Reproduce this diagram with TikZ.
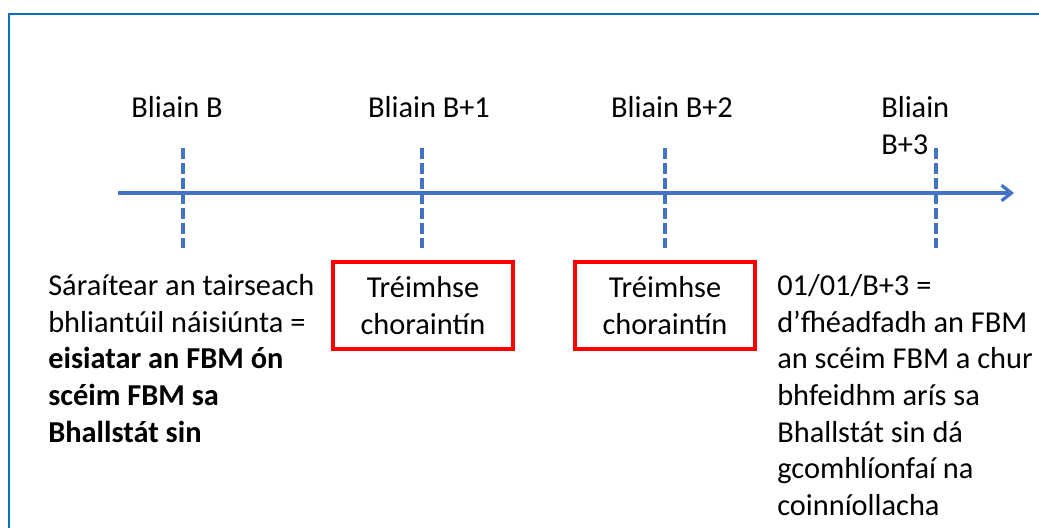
\documentclass[tikz,border=0pt]{standalone}
\usepackage{fontspec}
\setmainfont{Carlito}
\usetikzlibrary{arrows.meta}
\definecolor{axisblue}{RGB}{68,114,196}
\definecolor{frameblue}{RGB}{0,112,192}
\definecolor{boxred}{RGB}{255,0,0}

\begin{document}
\begin{tikzpicture}[x=0.025cm,y=-0.025cm,
	every node/.style={font=\fontsize{21.6}{26.1}\selectfont,inner sep=0pt},
	yearlabel/.style={anchor=base},
	tickline/.style={draw=axisblue,line width=2.3pt,dash pattern=on 7.8pt off 2.9pt},
	quarantine/.style={draw=boxred,line width=2.3pt,minimum width=4.5cm,minimum height=2.175cm,align=center},
	note/.style={anchor=north west,align=left}]
	\clip (0,0) rectangle (1039,527);
	\draw[frameblue,line width=1.4pt] (9,14) rectangle (1060,560);

	% time axis
	\coordinate (start) at (118,193);
	\coordinate (end)   at (1014,193);
	\draw[axisblue,line width=2.3pt,-{Straight Barb[length=7pt,width=11pt]}] (start) -- (end);

	% year marks
	\coordinate (t0a) at (183,148);   \coordinate (t0b) at (183,248);
	\coordinate (t1a) at (422,148);   \coordinate (t1b) at (422,248);
	\coordinate (t2a) at (665,148);   \coordinate (t2b) at (665,248);
	\coordinate (t3a) at (936,148);   \coordinate (t3b) at (936,248);
	\path[tickline] (t0a) edge (t0b);
	\path[tickline] (t1a) edge (t1b);
	\path[tickline] (t2a) edge (t2b);
	\path[tickline] (t3a) edge (t3b);

	\node[yearlabel] (y0) at (177,117) {Bliain B};
	\node[yearlabel] (y1) at (429,117) {Bliain B+1};
	\node[yearlabel] (y2) at (672,117) {Bliain B+2};
	\node[anchor=north west,align=left] (y3) at (881,96) {Bliain\\B+3};

	% quarantine periods
	\node[quarantine] (q1) at (423,305.5) {Tréimhse\\choraintín};
	\node[quarantine] (q2) at (665,305.5) {Tréimhse\\choraintín};

	% notes
	\node[note] (left) at (48,274) {Sáraítear an tairseach\\bhliantúil náisiúnta =\\\textbf{eisiatar an FBM ón}\\\textbf{scéim FBM sa}\\\textbf{Bhallstát sin}};
	\node[note] (right) at (777,274) {01/01/B+3 =\\d’fhéadfadh an FBM\\an scéim FBM a chur\\bhfeidhm arís sa\\Bhallstát sin dá\\gcomhlíonfaí na\\coinníollacha};
\end{tikzpicture}
\end{document}
